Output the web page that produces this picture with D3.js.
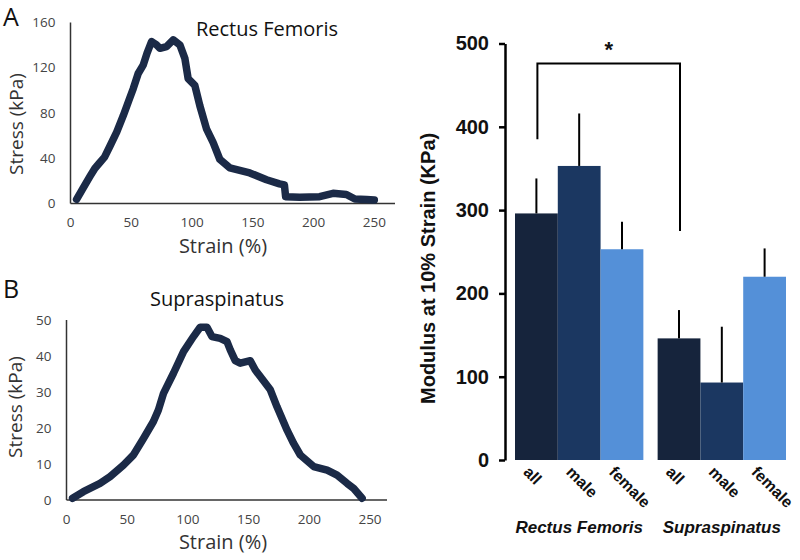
<!DOCTYPE html>
<html><head><meta charset="utf-8">
<script src="https://cdn.jsdelivr.net/npm/d3@7"></script>
<style>body{margin:0;background:#fff}</style>
</head><body>
<svg id="c" width="800" height="560"></svg>
<script>
// ---- Data ----
const rfStrain = [5,10,16,20,24,28,32.5,38,43.4,48,51.6,55.7,59.8,63,66.7,70.8,73.6,79,84.5,90,94.1,96.8,102.3,106.4,112,117.4,122.9,131.1,147.5,161.3,172,176,177,188.6,205,216,227,234,243.5,250];
const rfStress = [3.7,13,24,31,36,41,50.8,63,77.6,91,101.5,114.9,122.3,133,143.2,140.2,137.2,138.7,144.7,140.2,128.3,110.4,104.4,86.5,65.7,53.8,38.9,31.5,27,21,17.4,16.5,6,5.5,6,9,8,4,3.5,3];
const ssStrain = [5,13.9,27.6,35.9,46.9,55.1,63.4,71.6,75.7,79.9,88.1,96.4,104.6,110.1,115.7,119.8,126.6,132.2,134.9,139,143.1,151.4,155.5,159.6,167.9,173.4,181.7,187.1,192.6,203.6,214.7,222.9,231.2,236.6,243.5];
const ssStress = [0.5,2.3,4.6,6.5,9.7,12.5,17.1,21.8,25,29.6,35.2,41.2,45.4,48,48,45.4,44.9,44,41.7,38.7,38,38.7,36.1,34.3,30.6,25.9,19.4,15.7,12.5,9.3,8.3,6.9,4.6,3.2,0.5];
const strainTicks = [0,50,100,150,200,250];
const rfStressTicks = [0,40,80,120,160];
const ssStressTicks = [0,10,20,30,40,50];

const muscles = ["Rectus Femoris","Supraspinatus"];
const groups = ["all","male","female"];
const modulusMean = {"Rectus Femoris":[296,353,253], "Supraspinatus":[146,93,220]};
const modulusErr  = {"Rectus Femoris":[338,416,286], "Supraspinatus":[180,160,254]};
const modulusTicks = [0,100,200,300,400,500];
const groupColors = ["#16243c","#1b3761","#5490d8"];

const svg = d3.select("#c");
const sans = "'Open Sans', sans-serif";
const arial = "'Liberation Sans', Arial, sans-serif";

// ---- Line panels ----
function linePanel(o){
  const x = d3.scaleLinear().domain([0,o.xmax]).range([o.x0,o.x1]);
  const y = d3.scaleLinear().domain([0,o.ymax]).range([o.y0,o.y1]);
  const g = svg.append("g");
  g.append("line").attr("x1",o.x0).attr("x2",o.x0).attr("y1",o.y0).attr("y2",o.y1)
    .attr("stroke","#333").attr("stroke-width",1.5);
  g.append("line").attr("x1",o.x0).attr("x2",o.x1).attr("y1",o.y0).attr("y2",o.y0)
    .attr("stroke","#333").attr("stroke-width",1.5);
  g.selectAll(".yt").data(o.yticks).enter().append("text")
    .attr("x",o.x0-15).attr("y",d=>y(d)).attr("dy","0.35em").attr("text-anchor","end")
    .attr("font-family",sans).attr("font-size",13.5).attr("fill","#444").text(d=>d);
  g.selectAll(".xt").data(o.xticks).enter().append("text")
    .attr("x",d=>x(d)).attr("y",o.y0+19).attr("dy","0.35em").attr("text-anchor","middle")
    .attr("font-family",sans).attr("font-size",13.5).attr("fill","#444").text(d=>d);
  const pts = o.xs.map((v,i)=>[v,o.ys[i]]);
  g.append("path").attr("d",d3.line().x(d=>x(d[0])).y(d=>y(d[1]))(pts))
    .attr("fill","none").attr("stroke","#1b2a47").attr("stroke-width",7.5)
    .attr("stroke-linejoin","round").attr("stroke-linecap","round");
  g.append("text").attr("x",o.tx).attr("y",o.ty).attr("text-anchor","middle")
    .attr("font-family",sans).attr("font-size",20).attr("fill","#111").text(o.title);
  g.append("text").attr("x",o.sx).attr("y",o.sy).attr("text-anchor","middle").attr("dy","0.35em")
    .attr("font-family",sans).attr("font-size",20).attr("fill","#333").text("Strain (%)");
  g.append("text").attr("transform",`translate(${o.lx},${o.ly}) rotate(-90)`).attr("text-anchor","middle").attr("dy","0.35em")
    .attr("font-family",sans).attr("font-size",19).attr("fill","#333").text("Stress (kPa)");
  g.append("text").attr("x",o.px).attr("y",o.py)
    .attr("font-family",sans).attr("font-size",25).attr("fill","#111").text(o.letter);
}
linePanel({x0:70.5,x1:395,y0:203.5,y1:22.5,xmax:267,ymax:160,xs:rfStrain,ys:rfStress,
  xticks:strainTicks,yticks:rfStressTicks,title:"Rectus Femoris",tx:267,ty:36,
  sx:223,sy:246,lx:16,ly:124,letter:"A",px:3,py:26});
linePanel({x0:66.5,x1:387,y0:500,y1:320,xmax:264,ymax:50,xs:ssStrain,ys:ssStress,
  xticks:strainTicks,yticks:ssStressTicks,title:"Supraspinatus",tx:217,ty:306,
  sx:223,sy:542,lx:15,ly:407,letter:"B",px:3,py:298});

// ---- Bar chart ----
const yB = d3.scaleLinear().domain([0,500]).range([460,43.5]);
const xM = d3.scaleBand().domain(muscles).range([515,786]).paddingInner(0.1).paddingOuter(0);
const xG = d3.scaleBand().domain(groups).range([0,xM.bandwidth()]);
const gb = svg.append("g");
const axis = d3.axisLeft(yB).tickValues(modulusTicks).tickSize(6).tickPadding(10).tickSizeOuter(0);
const ag = gb.append("g").attr("transform","translate(505,0)").call(axis);
ag.select(".domain").attr("stroke","#000").attr("stroke-width",2.5);
ag.selectAll(".tick line").attr("stroke","#000").attr("stroke-width",2.5);
ag.selectAll(".tick text").attr("font-family",arial).attr("font-weight","bold").attr("font-size",20).attr("fill","#111");

muscles.forEach(m=>{
  const gg = gb.append("g");
  groups.forEach((gname,i)=>{
    const bx = xM(m)+xG(gname);
    gg.append("rect").attr("x",bx).attr("width",xG.bandwidth()).attr("y",yB(modulusMean[m][i]))
      .attr("height",yB(0)-yB(modulusMean[m][i])).attr("fill",groupColors[i]);
    const cx = bx+xG.bandwidth()/2;
    gg.append("line").attr("x1",cx).attr("x2",cx).attr("y1",yB(modulusMean[m][i])).attr("y2",yB(modulusErr[m][i]))
      .attr("stroke","#000").attr("stroke-width",2);
    gg.append("text").attr("transform",`translate(${cx-14},${yB(0)+13}) rotate(45)`)
      .attr("font-family",arial).attr("font-weight","bold").attr("font-size",16).attr("fill","#111").text(gname);
  });
  gg.append("text").attr("x",xM(m)+xM.bandwidth()/2).attr("y",533).attr("text-anchor","middle")
    .attr("font-family",arial).attr("font-weight","bold").attr("font-style","italic").attr("font-size",17).attr("fill","#111").text(m);
});

// significance bracket
const bxL = xM("Rectus Femoris")+xG("all")+xG.bandwidth()/2+1;
const bxR = 680;
gb.append("path").attr("d",`M${bxL},${yB(385)}V${yB(476)}H${bxR}V${yB(275)}`)
  .attr("fill","none").attr("stroke","#000").attr("stroke-width",2);
gb.append("text").attr("x",(bxL+bxR)/2+0).attr("y",yB(476)-6).attr("text-anchor","middle")
  .attr("font-family",arial).attr("font-weight","bold").attr("font-size",22).attr("fill","#111").text("*");
gb.append("text").attr("transform",`translate(428,${yB(230)}) rotate(-90)`).attr("text-anchor","middle").attr("dy","0.35em")
  .attr("font-family",arial).attr("font-weight","bold").attr("font-size",20).attr("fill","#111").text("Modulus at 10% Strain (KPa)");
</script>
</body></html>
